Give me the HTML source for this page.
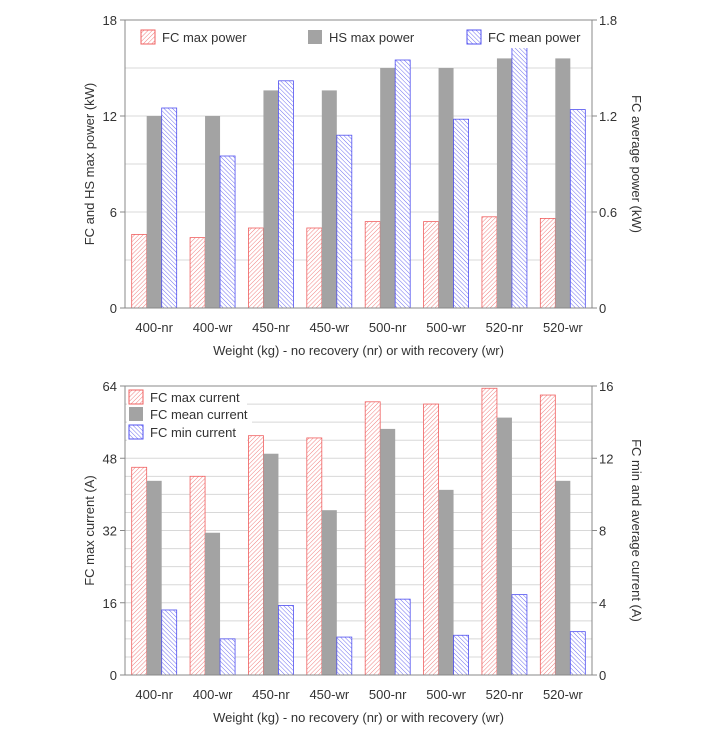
<!DOCTYPE html>
<html><head><meta charset="utf-8">
<style>
html,body{margin:0;padding:0;background:#fff;}
svg{display:block;font-family:"Liberation Sans",sans-serif;}
text{fill:#333;}
</style></head>
<body>
<svg id="svg" width="723" height="745" viewBox="0 0 723 745" xmlns="http://www.w3.org/2000/svg">
<defs>
<pattern id="pr" patternUnits="userSpaceOnUse" width="3" height="3" patternTransform="rotate(45)"><rect width="3" height="3" fill="#fff"/><line x1="0" y1="0" x2="0" y2="3" stroke="#f08080" stroke-width="1"/></pattern>
<pattern id="pb" patternUnits="userSpaceOnUse" width="3" height="3" patternTransform="rotate(-45)"><rect width="3" height="3" fill="#fff"/><line x1="0" y1="0" x2="0" y2="3" stroke="#7070f0" stroke-width="1"/></pattern>
</defs>
<g id="top"></g>
<g id="bot"></g>
</svg>
<script>
const categories=["400-nr","400-wr","450-nr","450-wr","500-nr","500-wr","520-nr","520-wr"];
const fcMaxPower=[4.6,4.4,5.0,5.0,5.4,5.4,5.7,5.6];
const hsMaxPower=[12,12,13.6,13.6,15,15,15.6,15.6];
const fcMeanPower=[1.25,0.95,1.42,1.08,1.55,1.18,1.63,1.24];
const topLeftTicks=[0,6,12,18];
const topRightTicks=["0","0.6","1.2","1.8"];
const fcMaxCurrent=[46,44,53,52.5,60.5,60,63.5,62];
const fcMeanCurrent=[43,31.5,49,36.5,54.5,41,57,43];
const fcMinCurrent=[3.6,2.0,3.85,2.1,4.2,2.2,4.45,2.4];
const botLeftTicks=[0,16,32,48,64];
const botRightTicks=["0","4","8","12","16"];

const NS="http://www.w3.org/2000/svg";
function mk(p,t,a,txt){const e=document.createElementNS(NS,t);for(const k in a)e.setAttribute(k,a[k]);if(txt!==undefined)e.textContent=txt;p.appendChild(e);return e;}

function chart(g,o){
  const L=125,R=592,T=o.top,B=o.bottom;
  const yL=v=>B-(v/o.lmax)*(B-T);
  const yR=v=>B-(v/o.rmax)*(B-T);
  for(let v=o.minor;v<o.lmax;v+=o.minor){
    const gl=mk(g,"line",{x1:L,x2:R,y1:yL(v),y2:yL(v),stroke:"#d8d8d8","stroke-width":1});
    
    
  }
  const gw=(R-L)/categories.length,bw=15;
  categories.forEach((c,i)=>{
    const cx=L+gw*(i+0.5);
    const s=[[o.s1[i],yL,"url(#pr)","#f06060"],[o.s2[i],yL,"#a3a3a3","none"],[o.s3[i],yR,"url(#pb)","#5050f0"]];
    s.forEach((d,j)=>{
      const y=d[1](d[0]);
      const r=mk(g,"rect",{x:cx-bw*1.5+j*bw,y:y,width:bw,height:B-y,fill:d[2],stroke:d[3],"stroke-width":0.8});
      
      
    });
    const t=mk(g,"text",{x:cx,y:B+24,"text-anchor":"middle","font-size":13},c);
    
    
  });
  mk(g,"rect",{x:L,y:T,width:R-L,height:B-T,fill:"none",stroke:"#888","stroke-width":1});
  o.lt.forEach(v=>{
    mk(g,"line",{x1:L-5,x2:L,y1:yL(v),y2:yL(v),stroke:"#888"});
    const t=mk(g,"text",{x:L-8,y:yL(v)+5,"text-anchor":"end","font-size":13},String(v));
    
    
  });
  o.rt.forEach((v,i)=>{
    const y=B-i*(B-T)/(o.rt.length-1);
    mk(g,"line",{x1:R,x2:R+5,y1:y,y2:y,stroke:"#888"});
    const t=mk(g,"text",{x:R+7,y:y+5,"font-size":13},v);
    
    
  });
  const xt=mk(g,"text",{x:(L+R)/2,y:B+47,"text-anchor":"middle","font-size":13},"Weight (kg) - no recovery (nr) or with recovery (wr)");
  
  
  const ym=(T+B)/2;
  const yl=mk(g,"text",{x:94,y:ym,"text-anchor":"middle","font-size":13,transform:`rotate(-90 94 ${ym})`},o.ltitle);
  
  
  const yr=mk(g,"text",{x:632,y:ym,"text-anchor":"middle","font-size":13,transform:`rotate(90 632 ${ym})`},o.rtitle);
  
  
  const fills=["url(#pr)","#a3a3a3","url(#pb)"],strokes=["#f06060","none","#5050f0"];
  o.legend.forEach((d,j)=>{
    mk(g,"rect",{x:d[0]-2,y:d[1]-9,width:d[3],height:20,fill:"#fff"});
    const lg=mk(g,"g",{});
    
    
    mk(lg,"rect",{x:d[0],y:d[1]-7,width:14,height:14,fill:fills[j],stroke:strokes[j]});
    mk(lg,"text",{x:d[0]+21,y:d[1]+5,"font-size":13},d[2]);
  });
}
chart(document.getElementById("top"),{top:20,bottom:308,lmax:18,rmax:1.8,minor:3,s1:fcMaxPower,s2:hsMaxPower,s3:fcMeanPower,lt:topLeftTicks,rt:topRightTicks,names:["fc-max","hs-max","fc-mean"],ltitle:"FC and HS max power (kW)",rtitle:"FC average power (kW)",legend:[[141,37,"FC max power",115],[308,37,"HS max power",115],[467,37,"FC mean power",120]]});
chart(document.getElementById("bot"),{top:386,bottom:675,lmax:64,rmax:16,minor:4,s1:fcMaxCurrent,s2:fcMeanCurrent,s3:fcMinCurrent,lt:botLeftTicks,rt:botRightTicks,names:["fc-max","fc-mean","fc-min"],ltitle:"FC max current (A)",rtitle:"FC min and average current (A)",legend:[[129,397,"FC max current",120],[129,414,"FC mean current",125],[129,432,"FC min current",120]]});
</script>
</body></html>
